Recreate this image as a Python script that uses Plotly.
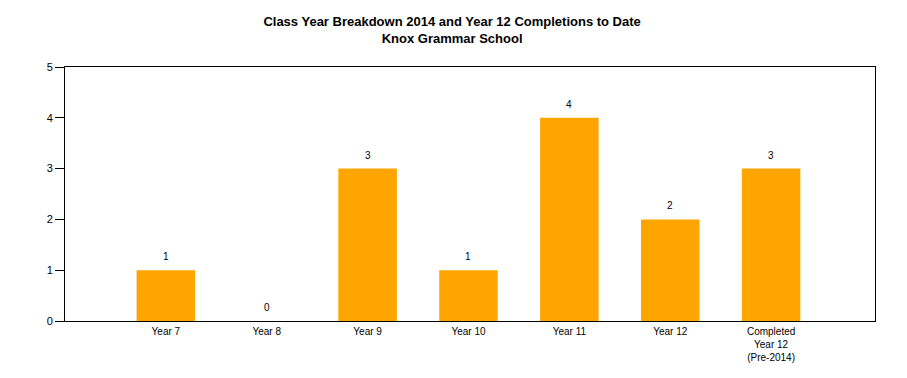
import plotly.graph_objects as go

categories = ["Year 7", "Year 8", "Year 9", "Year 10", "Year 11", "Year 12", "Completed<br>Year 12<br>(Pre-2014)"]
values = [1, 0, 3, 1, 4, 2, 3]
y_ticks = [0, 1, 2, 3, 4, 5]

fig = go.Figure()
fig.add_trace(go.Bar(
    x=categories, y=values, marker=dict(color="#FFA500", line=dict(width=0)),
    width=0.58, hoverinfo="x+y",
))
for c, v in zip(categories, values):
    fig.add_annotation(
        x=c, y=v, text=str(v), showarrow=False, yanchor="bottom", yshift=6,
        font=dict(size=10, color="#000000", family="Liberation Sans, Arial"),
    )
fig.update_layout(
    width=899, height=370,
    margin=dict(l=57, r=32, t=59, b=57),
    paper_bgcolor="white", plot_bgcolor="white",
    showlegend=False,
    font=dict(family="Liberation Sans, Arial", color="#000000", size=11),
    title=dict(
        text="<b>Class Year Breakdown 2014 and Year 12 Completions to Date<br>Knox Grammar School</b>",
        x=0.494, xanchor="center", y=0.952, yanchor="top",
        font=dict(size=13, family="Liberation Sans, Arial", color="#000000"),
    ),
    xaxis=dict(
        range=[-1, 7.03], showgrid=False, showline=True, linecolor="black", linewidth=1,
        mirror=True, ticks="outside", ticklen=1, tickcolor="rgba(0,0,0,0)",
        tickfont=dict(size=10), zeroline=False, fixedrange=True,
    ),
    yaxis=dict(
        range=[0, 5], tickvals=y_ticks, showgrid=False, showline=True, linecolor="black",
        linewidth=1, mirror=True, ticks="outside", ticklen=9, tickcolor="black",
        tickfont=dict(size=11), zeroline=False, fixedrange=True,
    ),
)
fig.write_html("out.html")
